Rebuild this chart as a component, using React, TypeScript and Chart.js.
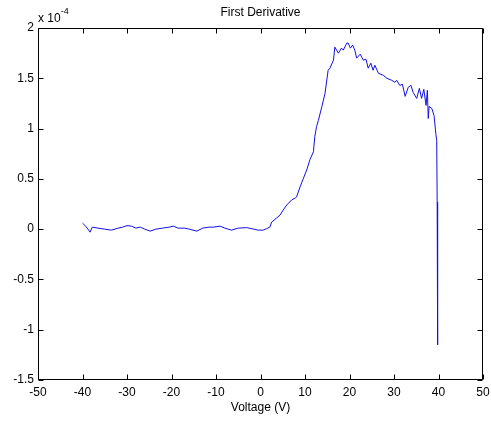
import React, { useEffect, useRef } from "react";
import { Chart, registerables } from "chart.js";

Chart.register(...registerables);

const TITLE = "First Derivative";
const X_LABEL = "Voltage (V)";
const Y_EXPONENT = "-4";

const X_MIN = -50;
const X_MAX = 50;
const X_STEP = 10;
const Y_MIN = -1.5;
const Y_MAX = 2;
const Y_STEP = 0.5;

// Voltage (V)
const voltage = [
  -40.0, -39.3, -38.6, -38.3, -37.8, -36.5, -35.0, -33.5, -32.0, -31.0,
  -30.0, -29.0, -28.0, -27.0, -26.0, -24.8, -23.5, -22.0, -20.5, -19.6,
  -18.5, -17.0, -16.0, -14.3, -13.0, -11.5, -10.5, -9.1, -8.0, -6.5,
  -5.0, -3.1, -1.5, -0.5, 0.6, 1.4, 2.1, 2.5, 3.6, 4.4,
  5.1, 5.9, 7.0, 7.8, 8.1, 8.9, 9.6, 10.4, 11.1, 11.9,
  12.2, 12.6, 13.0, 13.8, 14.5, 15.2, 15.6, 16.4, 16.7, 17.5,
  18.2, 18.6, 19.4, 19.7, 20.2, 20.7, 21.2, 21.6, 22.4, 23.1,
  23.7, 24.2, 24.8, 25.3, 25.7, 26.5, 27.6, 28.4, 29.5, 30.2,
  30.6, 31.3, 31.9, 32.5, 33.2, 33.8, 34.3, 35.1, 35.7, 36.2,
  36.7, 37.2, 37.5, 37.7, 37.9, 38.5, 39.0, 39.4, 39.6, 39.7,
  39.8, 39.8,
];

// First derivative, in units of 10^-4
const derivative = [
  0.06, 0.03, -0.01, -0.03, 0.02, 0.01, 0.0, -0.01, 0.01, 0.02,
  0.035, 0.03, 0.01, 0.02, 0.0, -0.02, 0.0, 0.01, 0.02, 0.03,
  0.01, 0.01, 0.0, -0.02, 0.01, 0.02, 0.02, 0.03, 0.01, -0.01,
  0.01, 0.015, 0.0, -0.01, -0.01, 0.005, 0.02, 0.07, 0.11, 0.14,
  0.19, 0.24, 0.29, 0.31, 0.32, 0.42, 0.5, 0.59, 0.69, 0.77,
  0.92, 1.02, 1.08, 1.22, 1.35, 1.58, 1.6, 1.68, 1.81, 1.75,
  1.8, 1.78, 1.85, 1.85, 1.8, 1.83, 1.78, 1.7, 1.74, 1.68,
  1.69, 1.6, 1.65, 1.58, 1.63, 1.55, 1.53, 1.5, 1.48, 1.46,
  1.48, 1.43, 1.44, 1.32, 1.41, 1.43, 1.36, 1.3, 1.4, 1.3,
  1.39, 1.23, 1.38, 1.1, 1.22, 1.2, 1.13, 0.95, 0.88, 0.27,
  -0.97, -1.15,
];

const FONT = '"Liberation Sans", Arial, Helvetica, sans-serif';

const matlabFrame = {
  id: "matlabFrame",
  afterDraw(chart: any) {
    const { ctx, chartArea } = chart;
    const { left, top, right, bottom } = chartArea;
    const xs = chart.scales.x;
    const ys = chart.scales.y;
    ctx.save();
    ctx.strokeStyle = "#000";
    ctx.lineWidth = 1;
    const L = Math.round(left) + 0.5;
    const R = Math.round(right) - 0.5;
    const T = Math.round(top) + 0.5;
    const B = Math.round(bottom) - 0.5;
    ctx.beginPath();
    ctx.rect(L, T, R - L, B - T);
    ctx.stroke();
    const tick = 5;
    ctx.beginPath();
    xs.ticks.forEach((t: any) => {
      const px = Math.round(xs.getPixelForValue(t.value)) + 0.5;
      ctx.moveTo(px, B);
      ctx.lineTo(px, B - tick);
      ctx.moveTo(px, T);
      ctx.lineTo(px, T + tick);
    });
    ys.ticks.forEach((t: any) => {
      const py = Math.round(ys.getPixelForValue(t.value)) + 0.5;
      ctx.moveTo(L, py);
      ctx.lineTo(L + tick, py);
      ctx.moveTo(R, py);
      ctx.lineTo(R - tick, py);
    });
    ctx.stroke();

    ctx.fillStyle = "#000";
    ctx.font = `12px ${FONT}`;
    ctx.textAlign = "center";
    ctx.textBaseline = "middle";
    ctx.fillText(TITLE, (left + right) / 2, 13);

    ctx.textAlign = "left";
    ctx.textBaseline = "alphabetic";
    ctx.font = `12px ${FONT}`;
    const base = "x 10";
    ctx.fillText(base, left, 22);
    const w = ctx.measureText(base).width;
    ctx.font = `9px ${FONT}`;
    ctx.fillText(Y_EXPONENT, left + w, 14);
    ctx.restore();
  },
};

export default function App() {
  const ref = useRef<HTMLCanvasElement | null>(null);

  useEffect(() => {
    document.body.style.margin = "0";
    const canvas = ref.current;
    if (!canvas) return;
    const points = voltage.map((v, i) => ({ x: v, y: derivative[i] }));
    const chart = new Chart(canvas, {
      type: "line",
      data: {
        datasets: [
          {
            data: points,
            borderColor: "#1010e8",
            borderWidth: 1,
            pointRadius: 0,
            tension: 0,
            fill: false,
          },
        ],
      },
      options: {
        responsive: false,
        animation: false,
        devicePixelRatio: 1,
        layout: { padding: { left: 0, top: 28, right: 8, bottom: 0 } },
        plugins: {
          legend: { display: false },
          tooltip: { enabled: false },
          title: { display: false },
        },
        scales: {
          x: {
            type: "linear",
            min: X_MIN,
            max: X_MAX,
            grid: { display: false, drawTicks: false },
            border: { display: false },
            ticks: {
              stepSize: X_STEP,
              color: "#000",
              font: { family: FONT, size: 12 },
              padding: 5,
              maxRotation: 0,
              callback: (v: any) => String(v),
            },
            title: {
              display: true,
              text: X_LABEL,
              color: "#000",
              font: { family: FONT, size: 12 },
              padding: { top: 0, bottom: 6 },
            },
            afterFit: (s: any) => {
              s.height = 41;
              s.paddingLeft = 0;
              s.paddingRight = 0;
            },
          },
          y: {
            type: "linear",
            min: Y_MIN,
            max: Y_MAX,
            grid: { display: false, drawTicks: false },
            border: { display: false },
            ticks: {
              stepSize: Y_STEP,
              color: "#000",
              font: { family: FONT, size: 12 },
              padding: 4,
              callback: (v: any) => String(v),
            },
            afterFit: (s: any) => {
              s.width = 38;
              s.paddingTop = 0;
              s.paddingBottom = 0;
            },
          },
        },
      },
      plugins: [matlabFrame],
    });
    return () => chart.destroy();
  }, []);

  return <canvas ref={ref} width={491} height={421} style={{ display: "block" }} />;
}
